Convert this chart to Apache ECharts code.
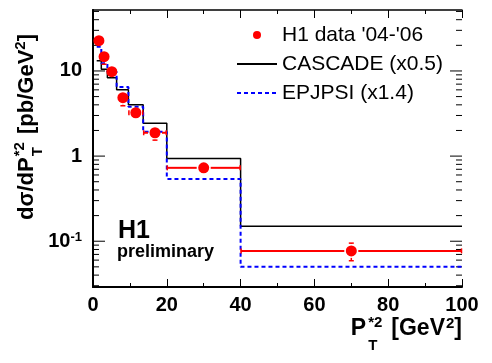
<!DOCTYPE html>
<html>
<head>
<meta charset="utf-8">
<script src="https://cdn.jsdelivr.net/npm/echarts@6/dist/echarts.min.js"></script>
<style>html,body{margin:0;padding:0;background:#fff;}#c{width:492px;height:363px;}</style>
</head>
<body>
<div id="c"></div>
<script>
// ---- data ----
const binEdges = [1, 2.25, 3.9, 6.4, 9.6, 13.6, 20, 40, 100];
const cascade  = [13.2, 10.5, 8.3, 6.0, 4.0, 2.43, 0.94, 0.15];
const epjpsi   = [19.3, 12.3, 9.8, 6.5, 3.8, 1.93, 0.54, 0.050];
const dataX    = [1.6, 3.0, 5.1, 8.1, 11.6, 16.8, 30, 70];
const dataY    = [22.7, 14.7, 9.8, 4.85, 3.23, 1.88, 0.728, 0.077];
const dataErr  = [3.0, 2.7, 1.3, 0.95, 0.53, 0.34, 0.08, 0.018];
const yMinorK  = [2, 3, 4, 5, 6, 7, 8, 9];
const legendNames = ["H1 data '04-'06", 'CASCADE (x0.5)', 'EPJPSI (x1.4)'];

const FF = '"Liberation Sans", Arial, Helvetica, sans-serif';
const yMin = 0.029, yMax = 52;

function histData(vals) {
  return binEdges.map((e, i) => [e, vals[Math.min(i, vals.length - 1)]]);
}
const yTickVals = [];
[0.01, 0.1, 1, 10].forEach(d => {
  [1].concat(yMinorK).forEach(k => {
    const v = k * d;
    if (v >= yMin && v <= yMax) yTickVals.push([v, k === 1 ? 1 : 0]);
  });
});
const errData = dataX.map((x, i) => [x, dataY[i], binEdges[i], binEdges[i + 1], dataErr[i]]);

const mctx = document.createElement('canvas').getContext('2d');
function measure(t, s) { mctx.font = 'bold ' + s + 'px ' + FF; return mctx.measureText(t).width; }
function textEl(t, s, x, y) {
  return { type: 'text', x: x, y: y, silent: true,
    style: { text: t, font: 'bold ' + s + 'px ' + FF, fill: '#000',
      textAlign: 'left', textVerticalAlign: 'middle', align: 'left', verticalAlign: 'middle' } };
}
function buildPieces(pieces) {
  let x = 0; const children = [];
  pieces.forEach(p => {
    if (p.stack) {
      let mw = 0;
      p.stack.forEach(q => { mw = Math.max(mw, measure(q.t, q.s)); children.push(textEl(q.t, q.s, x, q.dy)); });
      x += mw + (p.gap || 0);
    } else {
      children.push(textEl(p.t, p.s, x, p.dy || 0));
      x += measure(p.t, p.s) + (p.gap || 0);
    }
  });
  return { children: children, width: x };
}
const xTitle = buildPieces([
  { t: 'P', s: 23, gap: 2 },
  { stack: [{ t: '*2', s: 15, dy: -6 }, { t: 'T', s: 15, dy: 17 }], gap: 9 },
  { t: '[GeV', s: 23, gap: 1 },
  { t: '2', s: 15, dy: -5 },
  { t: ']', s: 23 }
]);
const yTitle = buildPieces([
  { t: 'd\u03c3/dP', s: 22, gap: 1 },
  { stack: [{ t: '*2', s: 15, dy: -7 }, { t: 'T', s: 15, dy: 11 }], gap: 2 },
  { t: ' [pb/GeV', s: 22 },
  { t: '2', s: 15, dy: -6 },
  { t: ']', s: 22 }
]);

const chart = echarts.init(document.getElementById('c'), null, { renderer: 'canvas' });
const axisLineStyle = { color: '#000', width: 2 };
const hideSym = { opacity: 0, borderWidth: 0 };
chart.setOption({
  animation: false,
  backgroundColor: '#fff',
  grid: { left: 93, right: 30, top: 10, bottom: 76 },
  legend: {
    orient: 'vertical', left: 236, top: 24, padding: 0,
    itemWidth: 40, itemHeight: 8, itemGap: 7, itemTextGap: 8,
    data: [
      { name: legendNames[0] },
      { name: legendNames[1], itemStyle: hideSym },
      { name: legendNames[2], itemStyle: hideSym }
    ],
    textStyle: { fontFamily: FF, fontSize: 21, color: '#000', lineHeight: 22 }
  },
  xAxis: [
    { type: 'value', min: 0, max: 100, interval: 20, position: 'bottom',
      axisLine: { lineStyle: axisLineStyle },
      axisTick: { inside: true, length: 8, lineStyle: { color: '#000', width: 1 } },
      minorTick: { show: true, splitNumber: 2, length: 4, lineStyle: { color: '#000', width: 1 } },
      splitLine: { show: false },
      axisLabel: { fontFamily: FF, fontSize: 20, fontWeight: 'bold', color: '#000', margin: 8 } },
    { type: 'value', min: 0, max: 100, interval: 20, position: 'top',
      axisLine: { lineStyle: { color: '#000', width: 1.5 } },
      axisTick: { inside: true, length: 8, lineStyle: { color: '#000', width: 1 } },
      minorTick: { show: true, splitNumber: 2, length: 4, lineStyle: { color: '#000', width: 1 } },
      splitLine: { show: false }, axisLabel: { show: false } }
  ],
  yAxis: [
    { type: 'log', logBase: 10, min: yMin, max: yMax, position: 'left',
      axisLine: { lineStyle: axisLineStyle },
      axisTick: { show: false }, splitLine: { show: false }, minorTick: { show: false },
      axisLabel: { fontFamily: FF, fontSize: 20, fontWeight: 'bold', color: '#000', margin: 11,
        showMinLabel: false, showMaxLabel: false,
        formatter: function (v) {
          const e = Math.round(Math.log10(v));
          if (e === 0) return '{b|1}';
          if (e === 1) return '{b|10}';
          return '{b|10}{s|' + e + '}';
        },
        rich: {
          b: { fontFamily: FF, fontSize: 20, fontWeight: 'bold', color: '#000' },
          s: { fontFamily: FF, fontSize: 13, fontWeight: 'bold', color: '#000', verticalAlign: 'top', padding: [0, 0, 7, 0] }
        } } },
    { type: 'log', logBase: 10, min: yMin, max: yMax, position: 'right',
      axisLine: { lineStyle: { color: '#000', width: 1.5 } },
      axisTick: { show: false }, splitLine: { show: false }, axisLabel: { show: false } }
  ],
  graphic: [
    { type: 'group', x: 462 - xTitle.width, y: 329, children: xTitle.children },
    { type: 'group', x: 27, y: 220, rotation: Math.PI / 2, children: yTitle.children },
    { type: 'text', x: 118, y: 231, silent: true,
      style: { text: 'H1', font: 'bold 25px ' + FF, fill: '#000', textVerticalAlign: 'middle', verticalAlign: 'middle' } },
    { type: 'text', x: 117, y: 252, silent: true,
      style: { text: 'preliminary', font: 'bold 18px ' + FF, fill: '#000', textVerticalAlign: 'middle', verticalAlign: 'middle' } }
  ],
  series: [
    { type: 'custom', silent: true, clip: false, z: 1,
      data: yTickVals,
      renderItem: function (params, api) {
        const v = api.value(0), major = api.value(1) === 1;
        const pl = api.coord([0, v]), pr = api.coord([100, v]);
        const len = major ? 12 : 6;
        return { type: 'group', children: [
          { type: 'line', shape: { x1: pl[0], y1: pl[1], x2: pl[0] + len, y2: pl[1] }, style: { stroke: '#000', lineWidth: 1 } },
          { type: 'line', shape: { x1: pr[0], y1: pr[1], x2: pr[0] - len, y2: pr[1] }, style: { stroke: '#000', lineWidth: 1 } }
        ] };
      } },
    { name: legendNames[1], type: 'line', step: 'end', symbol: 'none', z: 2,
      data: histData(cascade), color: '#000',
      lineStyle: { color: '#000', width: 1.5 } },
    { name: legendNames[2], type: 'line', step: 'end', symbol: 'none', z: 3,
      data: histData(epjpsi), color: '#0000ff',
      lineStyle: { color: '#0000ff', width: 2, type: [4, 3] } },
    { type: 'custom', silent: true, z: 4, data: errData,
      renderItem: function (params, api) {
        const x = api.value(0), y = api.value(1), xl = api.value(2), xh = api.value(3), e = api.value(4);
        const p = api.coord([x, y]), pl = api.coord([xl, y]), ph = api.coord([xh, y]);
        const pu = api.coord([x, y + e]), pd = api.coord([x, y - e]);
        const g = 7, c = 2.5, st = { stroke: '#ff0000', lineWidth: 2 }, st2 = { stroke: '#ff0000', lineWidth: 1.5 };
        const ch = [];
        if (pl[0] < p[0] - g) {
          ch.push({ type: 'line', shape: { x1: pl[0], y1: p[1], x2: p[0] - g, y2: p[1] }, style: st });
          ch.push({ type: 'line', shape: { x1: pl[0] + 0.5, y1: p[1] - c, x2: pl[0] + 0.5, y2: p[1] + c }, style: st2 });
        }
        if (ph[0] > p[0] + g) {
          ch.push({ type: 'line', shape: { x1: p[0] + g, y1: p[1], x2: ph[0], y2: p[1] }, style: st });
          ch.push({ type: 'line', shape: { x1: ph[0] - 0.5, y1: p[1] - c, x2: ph[0] - 0.5, y2: p[1] + c }, style: st2 });
        }
        if (pu[1] < p[1] - g) {
          ch.push({ type: 'line', shape: { x1: p[0], y1: pu[1], x2: p[0], y2: p[1] - g }, style: st2 });
          ch.push({ type: 'line', shape: { x1: p[0] - c, y1: pu[1], x2: p[0] + c, y2: pu[1] }, style: st2 });
        }
        if (pd[1] > p[1] + g) {
          ch.push({ type: 'line', shape: { x1: p[0], y1: p[1] + g, x2: p[0], y2: pd[1] }, style: st2 });
          ch.push({ type: 'line', shape: { x1: p[0] - c, y1: pd[1], x2: p[0] + c, y2: pd[1] }, style: st2 });
        }
        return { type: 'group', children: ch };
      } },
    { name: legendNames[0], type: 'scatter', z: 5, symbol: 'circle', symbolSize: 11,
      data: dataX.map((x, i) => [x, dataY[i]]),
      itemStyle: { color: '#ff0000', opacity: 1 } }
  ]
});
</script>
</body>
</html>
